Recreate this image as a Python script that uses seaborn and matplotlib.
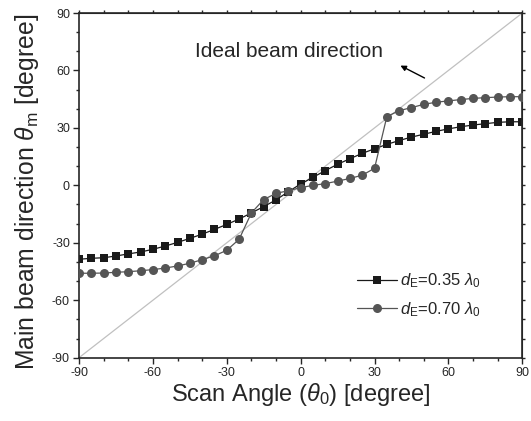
import matplotlib
matplotlib.use("Agg")
import matplotlib.pyplot as plt
import numpy as np
import pandas as pd
import seaborn as sns

# ── Data ────────────────────────────────────────────────────────────────────

scan_angle = [-90, -85, -80, -75, -70, -65, -60, -55, -50, -45, -40, -35, -30,
              -25, -20, -15, -10, -5, 0, 5, 10, 15, 20, 25, 30, 35, 40, 45,
              50, 55, 60, 65, 70, 75, 80, 85, 90]

beam_035 = [-38.6, -38.1, -37.8, -36.9, -35.8, -34.8, -33.4, -31.7, -29.8,
            -27.7, -25.5, -23.0, -20.4, -17.6, -14.4, -11.1, -7.6, -3.3, 0.7,
            4.2, 7.7, 11.0, 13.9, 16.7, 19.1, 21.4, 23.4, 25.2, 26.7, 28.2,
            29.5, 30.6, 31.5, 32.2, 32.9, 33.2, 33.2]

beam_070 = [-45.9, -45.9, -45.8, -45.4, -45.1, -44.6, -44.0, -43.2, -42.1,
            -40.7, -38.8, -36.8, -33.9, -28.2, -14.4, -7.4, -4.2, -2.8, -1.2,
            0.0, 0.9, 2.2, 3.6, 5.3, 8.9, 35.9, 39.0, 40.6, 42.3, 43.4, 44.1,
            44.8, 45.4, 45.8, 46.1, 46.3, 46.3]

ideal_x = [-90, 90]
ideal_y = [-90, 90]

labels = [r"$d_{\rm E}$=0.35 $\lambda_0$", r"$d_{\rm E}$=0.70 $\lambda_0$"]
ticks = [-90, -60, -30, 0, 30, 60, 90]
minor_ticks = [-90, -80, -70, -60, -50, -40, -30, -20, -10, 0,
               10, 20, 30, 40, 50, 60, 70, 80, 90]

# ── Style ───────────────────────────────────────────────────────────────────

sns.set_style("ticks")
plt.rcParams["font.family"] = ["Liberation Sans", "DejaVu Sans"]
plt.rcParams["mathtext.fontset"] = "custom"
plt.rcParams["mathtext.rm"] = "Liberation Sans"
plt.rcParams["mathtext.it"] = "Liberation Sans:italic"
plt.rcParams["axes.unicode_minus"] = False

fig = plt.figure(figsize=(5.31, 4.21), dpi=100)
ax = fig.add_axes([0.1488, 0.1504, 0.8348, 0.8187])

df = pd.DataFrame({
    "angle": scan_angle * 2,
    "beam": beam_035 + beam_070,
    "case": [labels[0]] * len(scan_angle) + [labels[1]] * len(scan_angle),
})

ax.plot(ideal_x, ideal_y, color="#c0c0c0", lw=0.9, zorder=1)

sns.lineplot(
    data=df[df["case"] == labels[0]], x="angle", y="beam", ax=ax,
    color="#1a1a1a", marker="s", markersize=5.6, markeredgewidth=0,
    lw=0.9, label=labels[0], zorder=2,
)
sns.lineplot(
    data=df[df["case"] == labels[1]], x="angle", y="beam", ax=ax,
    color="#555555", marker="o", markersize=6.5, markeredgewidth=0,
    lw=0.9, label=labels[1], zorder=3,
)

ax.annotate("", xy=(39.5, 63.2), xytext=(51.3, 55.4),
            arrowprops=dict(arrowstyle="-|>", color="black", lw=1,
                            mutation_scale=8))
ax.text(-42.8, 69.8, "Ideal beam direction", fontsize=15, va="center", ha="left")

ax.set_xlim(-90, 90)
ax.set_ylim(-90, 90)
ax.set_xticks(ticks)
ax.set_yticks(ticks)
ax.set_xticks(minor_ticks, minor=True)
ax.set_yticks(minor_ticks, minor=True)
ax.tick_params(which="major", length=4.5, width=1, labelsize=9, pad=2)
ax.tick_params(which="minor", length=2.5, width=1)

for side in ["top", "right"]:
    ax.spines[side].set_visible(True)
for sp in ax.spines.values():
    sp.set_linewidth(1.2)

sec_x = ax.secondary_xaxis("top")
sec_x.set_xticks(minor_ticks)
sec_x.tick_params(length=2.5, width=1, labeltop=False)
sec_y = ax.secondary_yaxis("right")
sec_y.set_yticks(minor_ticks)
sec_y.tick_params(length=2.5, width=1, labelright=False)

ax.set_xlabel(r"Scan Angle ($\theta_0$) [degree]", fontsize=17, labelpad=2)
ax.set_ylabel(r"Main beam direction $\theta_{\rm m}$ [degree]", fontsize=17.8,
              labelpad=8)
ax.yaxis.label.set_y(0.481)

ax.legend(loc="upper left", bbox_to_anchor=(0.627, 0.25), frameon=False,
          fontsize=12, handlelength=2.4, handletextpad=0.2, borderpad=0,
          borderaxespad=0, labelspacing=0.6)

fig.savefig("out.png", dpi=100)
